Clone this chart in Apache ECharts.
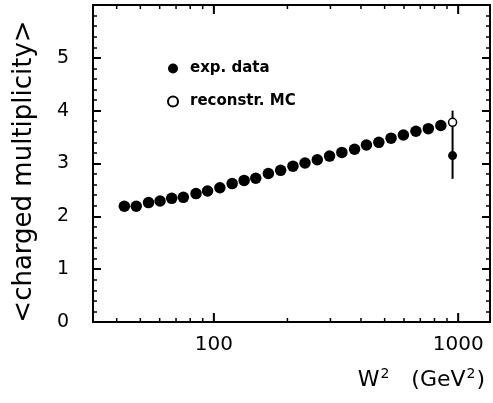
<!DOCTYPE html>
<html><head><meta charset="utf-8">
<script src="https://cdn.jsdelivr.net/npm/echarts@6/dist/echarts.min.js"></script>
<style>html,body{margin:0;padding:0;background:#fff}#c{width:493px;height:403px}</style>
</head><body><div id="c"></div>
<script>
// W^2 (GeV^2) positions and mean charged multiplicity
const expW2 = [43.0, 48.1, 54.0, 60.2, 67.2, 75.0, 84.5, 94.2, 105.8, 118.8, 133.0, 148.4, 167.1, 187.6, 210.7, 236.1, 265.0, 297.5, 334.1, 376.6, 421.2, 473.3, 531.3, 596.8, 671.6, 754.9, 849.3];
const expMult = [2.19, 2.19, 2.26, 2.29, 2.34, 2.36, 2.43, 2.48, 2.54, 2.62, 2.68, 2.72, 2.81, 2.87, 2.95, 3.01, 3.07, 3.14, 3.21, 3.27, 3.35, 3.40, 3.48, 3.54, 3.61, 3.66, 3.72];
const lastW2 = 948.6;
const lastMult = 3.15;
const lastErrLow = 2.71;
const lastErrHigh = 4.00;
const mcW2 = [948.6];
const mcMult = [3.78];
const xMajorTicks = [100, 1000];
const xMinorTicks = [40, 50, 60, 70, 80, 90, 200, 300, 400, 500, 600, 700, 800, 900];
const yLabels = ['0', '1', '2', '3', '4', '5'];

const FONT = 'DejaVu Sans';
const xMin = 32, xMax = 1350, yMin = 0, yMax = 6;

const expData = expW2.map((w, i) => [w, expMult[i]]);
expData.push({ value: [lastW2, lastMult], symbolSize: 9 });
const mcData = mcW2.map((w, i) => [w, mcMult[i]]);

// x-axis tick marks (bottom & top), placed through the log axis scale
const MAJ = 9, MIN = 4;
const tickData = [];
xMajorTicks.forEach(v => {
  tickData.push({ value: [v, yMin], symbolSize: [2, MAJ], symbolOffset: [0, -MAJ / 2] });
  tickData.push({ value: [v, yMax], symbolSize: [2, MAJ], symbolOffset: [0, MAJ / 2] });
});
xMinorTicks.forEach(v => {
  tickData.push({ value: [v, yMin], symbolSize: [1.5, MIN], symbolOffset: [0, -MIN / 2] });
  tickData.push({ value: [v, yMax], symbolSize: [1.5, MIN], symbolOffset: [0, MIN / 2] });
});

function yAx(pos, labels) {
  return {
    type: 'value', position: pos, min: yMin, max: yMax, interval: 1,
    name: labels ? '<charged multiplicity>' : '', nameLocation: 'middle', nameGap: 56, nameRotate: 90,
    nameTextStyle: { color: '#000', fontFamily: FONT, fontSize: 26, padding: [0, 16, 0, 0] },
    axisLine: { show: true, lineStyle: { color: '#000', width: 2 } },
    axisTick: { show: true, inside: true, length: 8, lineStyle: { color: '#000', width: 2 } },
    minorTick: { show: true, splitNumber: 5, length: 4, lineStyle: { color: '#000', width: 1.5 } },
    axisLabel: labels ? { show: true, color: '#000', fontFamily: FONT, fontSize: 19, margin: 24, formatter: v => (yLabels[v] !== undefined ? yLabels[v] : '') } : { show: false },
    splitLine: { show: false }
  };
}

const chart = echarts.init(document.getElementById('c'), null, { renderer: 'canvas' });
chart.setOption({
  animation: false,
  backgroundColor: '#fff',
  grid: { left: 93, right: 2, top: 5, bottom: 81, containLabel: false },
  title: {
    text: '{n|W}{s|2}{n|   (GeV}{s|2}{n|)}', right: 3, bottom: 5,
    textStyle: {
      fontWeight: 'normal',
      rich: {
        n: { color: '#000', fontFamily: FONT, fontSize: 22, fontWeight: 'normal', lineHeight: 26 },
        s: { color: '#000', fontFamily: FONT, fontSize: 14, fontWeight: 'normal', lineHeight: 26, padding: [0, 1, 12, 1] }
      }
    }
  },
  legend: {
    data: ['exp. data', 'reconstr. MC'], orient: 'vertical', left: 167, top: 61,
    itemWidth: 10, itemHeight: 10, itemGap: 18, padding: 0,
    textStyle: { color: '#000', fontFamily: FONT, fontSize: 15, fontWeight: 'bold', lineHeight: 14, padding: [0, 0, 0, 7] }
  },
  xAxis: [{
    type: 'log', position: 'bottom', min: xMin, max: xMax, logBase: 10,
    axisLine: { show: true, onZero: false, lineStyle: { color: '#000', width: 2 } },
    axisTick: { show: false },
    axisLabel: { show: true, color: '#000', fontFamily: FONT, fontSize: 20, margin: 13,
      formatter: v => { const r = Math.round(v); return xMajorTicks.indexOf(r) >= 0 ? String(r) : ''; } },
    splitLine: { show: false }, minorTick: { show: false }
  }, {
    type: 'log', position: 'top', min: xMin, max: xMax, logBase: 10,
    axisLine: { show: true, onZero: false, lineStyle: { color: '#000', width: 2 } },
    axisTick: { show: false }, axisLabel: { show: false }, splitLine: { show: false }
  }],
  yAxis: [yAx('left', true), yAx('right', false)],
  series: [
    { name: 'ticks', type: 'scatter', data: tickData, symbol: 'rect', itemStyle: { color: '#000', opacity: 1 } },
    { name: 'errbar', type: 'line', data: [[lastW2, lastErrLow], [lastW2, lastErrHigh]], symbol: 'none', lineStyle: { color: '#000', width: 2 }, z: 1, silent: true },
    { name: 'exp. data', type: 'scatter', data: expData, symbol: 'circle', symbolSize: 11.5, itemStyle: { color: '#000', opacity: 1 }, z: 3 },
    { name: 'reconstr. MC', type: 'scatter', data: mcData, symbol: 'circle', symbolSize: 8, itemStyle: { color: '#fff', borderColor: '#000', borderWidth: 1.5, opacity: 1 }, z: 4 }
  ]
});
</script></body></html>
